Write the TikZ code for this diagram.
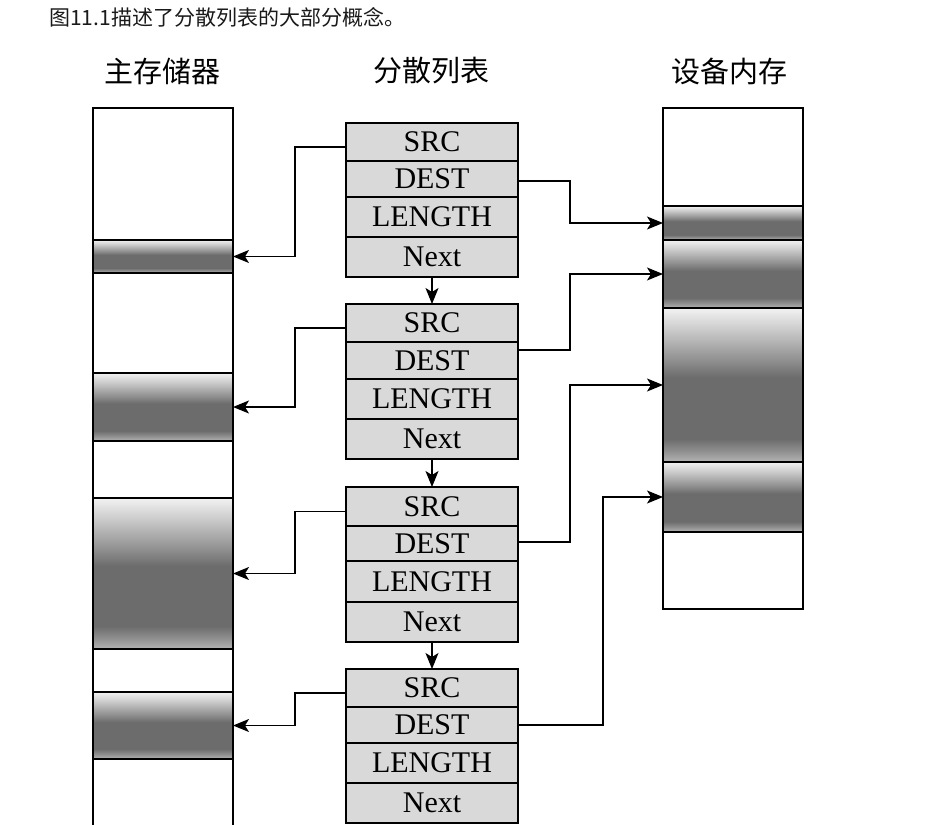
\documentclass[tikz,border=0pt]{standalone}
\usepackage{fontspec}
\setmainfont{Liberation Serif}
\newfontfamily\cjk{Noto Sans CJK SC}
\usetikzlibrary{arrows.meta}
\definecolor{gT}{HTML}{F2F2F2}
\definecolor{gL}{HTML}{C8C8C8}
\definecolor{gM}{HTML}{8C8C8C}
\definecolor{gD}{HTML}{6C6C6C}
\definecolor{gA}{HTML}{909090}
\definecolor{gB}{HTML}{B4B4B4}
\definecolor{rowfill}{HTML}{D9D9D9}
\definecolor{capc}{HTML}{1A1A1A}
\pgfdeclareverticalshading{memgrad}{100bp}{color(0bp)=(gB); color(25bp)=(gB); color(28.5bp)=(gA); color(32.5bp)=(gD); color(52.5bp)=(gD); color(57.5bp)=(gM); color(67.5bp)=(gL); color(75bp)=(gT); color(100bp)=(gT)}
\begin{document}
\begin{tikzpicture}[x=1pt,y=-1pt,
  lw/.style={line width=1.4pt},
  memblock/.style={lw, draw, fill=white, minimum width=140pt, inner sep=0pt, outer sep=0pt, anchor=north west},
  seg/.style={lw, draw, shading=memgrad, shade, minimum width=140pt, inner sep=0pt, outer sep=0pt, anchor=north west},
  row/.style={lw, draw, fill=rowfill, minimum width=172pt, inner sep=0pt, outer sep=0pt, font=\fontsize{30}{32}\selectfont},
  title/.style={font=\cjk\fontsize{29}{34}\selectfont, inner sep=0pt},
  arr/.style={lw, -{Stealth[length=16pt,width=13pt,inset=4pt]}}]
\useasboundingbox (0,0) rectangle (951,825);
\fill[white] (0,0) rectangle (951,825);
% caption and titles
\node[anchor=west, inner sep=0pt, text=capc, font=\cjk\fontsize{21}{25}\selectfont] (cap) at (49,17) {图11.1描述了分散列表的大部分概念。};
\node[title] (t1) at (162,71) {主存储器};
\node[title] (t2) at (431,71) {分散列表};
\node[title] (t3) at (729,71) {设备内存};
% main memory
\node[memblock, minimum height=760pt] (mainmem) at (93,108) {};
\node[seg, minimum height=33pt] (mm1) at (93,240) {};
\node[seg, minimum height=68pt] (mm2) at (93,373) {};
\node[seg, minimum height=151pt] (mm3) at (93,498) {};
\node[seg, minimum height=67pt] (mm4) at (93,692) {};
% device memory
\node[memblock, minimum height=501pt] (devmem) at (663,108) {};
\node[seg, minimum height=34pt] (dv1) at (663,206) {};
\node[seg, minimum height=68pt] (dv2) at (663,240) {};
\node[seg, minimum height=154pt] (dv3) at (663,308) {};
\node[seg, minimum height=70pt] (dv4) at (663,462) {};
% scatter list entries
\foreach \i/\a/\b/\c/\d/\e in {1/123/161/197/237/277, 2/304/342/379/419/459, 3/487/526/561/602/642, 4/669/707/743/783/823} {
  \node[row, minimum height={\b-\a}] (src\i) at (432,{(\a+\b)/2}) {SRC};
  \node[row, minimum height={\c-\b}] (dst\i) at (432,{(\b+\c)/2}) {DEST};
  \node[row, minimum height={\d-\c}] (len\i) at (432,{(\c+\d)/2}) {LENGTH};
  \node[row, minimum height={\e-\d}] (nxt\i) at (432,{(\d+\e)/2}) {Next};
}
% next links
\draw[arr] (nxt1.south) -- (src2.north);
\draw[arr] (nxt2.south) -- (src3.north);
\draw[arr] (nxt3.south) -- (src4.north);
% SRC links
\foreach \i in {1,2,3,4} {
  \draw[arr] ([yshift=-5pt]src\i.west) -- ++(-51,0) |- (mm\i.east);
}
% DEST links
\draw[arr] ([yshift=-2pt]dst1.east) -- ++(52,0) |- (dv1.west);
\draw[arr] ([yshift=10.5pt]dst2.east) -- ++(52,0) |- (dv2.west);
\draw[arr] ([yshift=1.5pt]dst3.east) -- ++(52,0) |- (dv3.west);
\draw[arr] (dst4.east) -- ++(85,0) |- (dv4.west);
\end{tikzpicture}
\end{document}
